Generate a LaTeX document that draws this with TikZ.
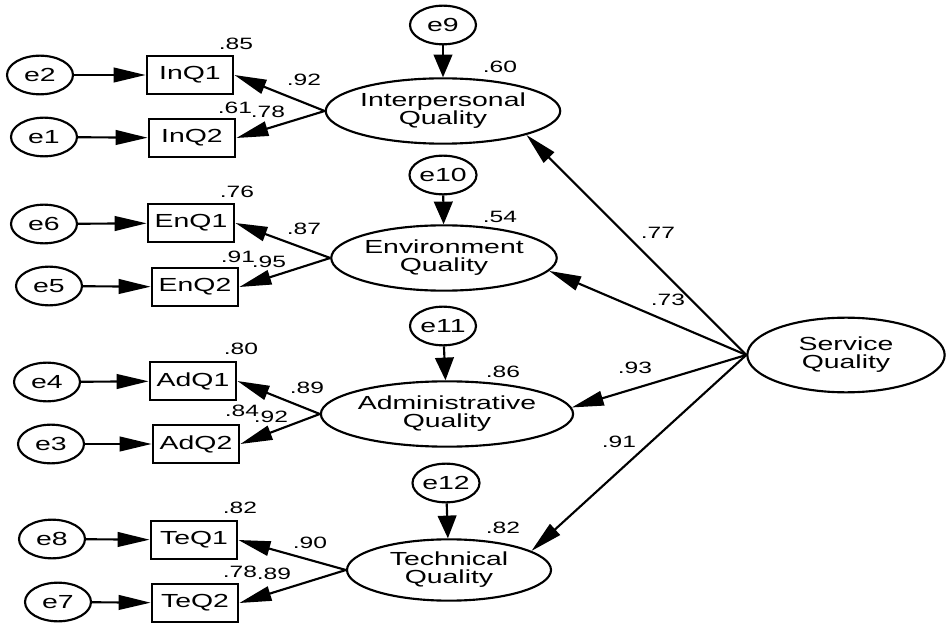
\documentclass[tikz,border=0pt]{standalone}
\usepackage{fontspec}
\newfontfamily\semfont[FakeStretch=1.5]{Liberation Sans}
\usetikzlibrary{shapes.geometric,arrows.meta}
\tikzset{
    latent-var/.style = {draw, ellipse, line width=1.6pt, inner sep=0pt, minimum width=163pt, minimum height=49pt, align=center, font=\semfont\fontsize{14.2}{13.6}\selectfont},
    obs-box/.style = {draw, rectangle, line width=1.6pt, inner sep=0pt, minimum width=65pt, minimum height=29pt, font=\semfont\fontsize{14.2}{15}\selectfont},
    err-circ/.style = {draw, ellipse, line width=1.6pt, inner sep=0pt, minimum width=49.5pt, minimum height=29pt, font=\semfont\fontsize{14.2}{15}\selectfont},
    coef/.style = {inner sep=0pt, font=\semfont\fontsize{12.3}{13}\selectfont},
    path-arrow/.style = {line width=1.6pt, -{Triangle[length=24pt, width=11pt]}},
    err-arrow/.style = {line width=1.6pt, -{Triangle[length=17pt, width=14pt]}},
}

\begin{document}
\begin{tikzpicture}[x=0.75pt, y=-0.75pt]
\useasboundingbox (0,0) rectangle (947,624);

% latent variables
\node [latent-var] (interp) at (443,111) {Interpersonal\\Quality};
\node [latent-var] (env) at (444,258) {Environment\\Quality};
\node [latent-var] (admin) at (447,414) {Administrative\\Quality};
\node [latent-var, minimum width=153pt, minimum height=46pt] (tech) at (449,570) {Technical\\Quality};
\node [latent-var, minimum width=148pt, minimum height=56pt] (service) at (846,355) {Service\\Quality};

% observed items
\node [obs-box] (inq1) at (190,75) {InQ1};
\node [obs-box] (inq2) at (192,138) {InQ2};
\node [obs-box] (enq1) at (191,223) {EnQ1};
\node [obs-box] (enq2) at (195,287) {EnQ2};
\node [obs-box] (adq1) at (193,381) {AdQ1};
\node [obs-box] (adq2) at (196,444) {AdQ2};
\node [obs-box] (teq1) at (194,540) {TeQ1};
\node [obs-box] (teq2) at (195,603) {TeQ2};

% error terms
\node [err-circ] (e2) at (40,75) {e2};
\node [err-circ] (e1) at (44,137) {e1};
\node [err-circ] (e6) at (44,224) {e6};
\node [err-circ] (e5) at (49,286) {e5};
\node [err-circ] (e4) at (47,382) {e4};
\node [err-circ] (e3) at (51,444) {e3};
\node [err-circ] (e8) at (52,539) {e8};
\node [err-circ] (e7) at (58,602) {e7};
\node [err-circ] (e9) at (443,25) {e9};
\node [err-circ] (e10) at (443,175) {e10};
\node [err-circ] (e11) at (443,326) {e11};
\node [err-circ] (e12) at (446,483) {e12};

% error arrows
\draw [path-arrow] (e2) -- (inq1);
\draw [path-arrow] (e1) -- (inq2);
\draw [path-arrow] (e6) -- (enq1);
\draw [path-arrow] (e5) -- (enq2);
\draw [path-arrow] (e4) -- (adq1);
\draw [path-arrow] (e3) -- (adq2);
\draw [path-arrow] (e8) -- (teq1);
\draw [path-arrow] (e7) -- (teq2);
\draw [err-arrow] (e9) -- (interp);
\draw [err-arrow] (e10) -- (env);
\draw [err-arrow] (e11) -- (admin);
\draw [err-arrow] (e12) -- (tech);

% loadings
\draw [path-arrow] (interp.west) -- (inq1.east);
\draw [path-arrow] (interp.west) -- (inq2.east);
\draw [path-arrow] (env.west) -- (enq1.east);
\draw [path-arrow] (env.west) -- (enq2.east);
\draw [path-arrow] (admin.west) -- (adq1.east);
\draw [path-arrow] (admin.west) -- (adq2.east);
\draw [path-arrow] (tech.west) -- (teq1.east);
\draw [path-arrow] (tech.west) -- (teq2.east);

% second order paths
\draw [path-arrow] (service.west) -- (interp.-16);
\draw [path-arrow] (service.west) -- (env.-7);
\draw [path-arrow] (service.west) -- (admin.3);
\draw [path-arrow] (service.west) -- (tech.13);

% coefficients
\node [coef] (r-inq1) at (236,44) {.85};
\node [coef] (r-inq2) at (235,108) {.61};
\node [coef] (l-inq1) at (304,80) {.92};
\node [coef] (l-inq2) at (268,112) {.78};
\node [coef] (r-interp) at (500,67) {.60};

\node [coef] (r-enq1) at (237,192) {.76};
\node [coef] (r-enq2) at (238,257) {.91};
\node [coef] (l-enq1) at (304,229) {.87};
\node [coef] (l-enq2) at (269,262) {.95};
\node [coef] (r-env) at (500,217) {.54};

\node [coef] (r-adq1) at (241,349) {.80};
\node [coef] (r-adq2) at (242,411) {.84};
\node [coef] (l-adq1) at (307,388) {.89};
\node [coef] (l-adq2) at (271,417) {.92};
\node [coef] (r-admin) at (503,372) {.86};

\node [coef] (r-teq1) at (240,508) {.82};
\node [coef] (r-teq2) at (240,572) {.78};
\node [coef] (l-teq1) at (310,543) {.90};
\node [coef] (l-teq2) at (274,574) {.89};
\node [coef] (r-tech) at (503,528) {.82};

\node [coef] (g-interp) at (658,233) {.77};
\node [coef] (g-env) at (668,300) {.73};
\node [coef] (g-admin) at (635,368) {.93};
\node [coef] (g-tech) at (619,442) {.91};
\end{tikzpicture}
\end{document}
